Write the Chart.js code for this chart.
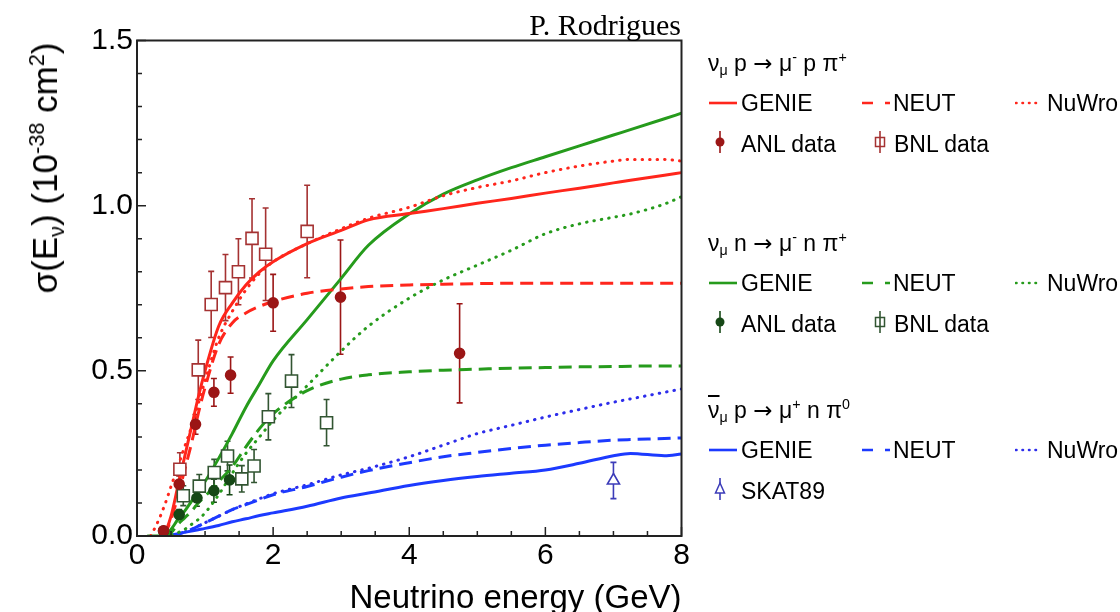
<!DOCTYPE html>
<html>
<head>
<meta charset="utf-8">
<script src="https://cdn.jsdelivr.net/npm/chart.js@4.4.1/dist/chart.umd.min.js"></script>
<style>
  html, body { margin: 0; padding: 0; background: #fff; }
  #wrap { position: relative; width: 1120px; height: 612px; font-family: 'Liberation Sans', Arial, sans-serif; color: #000; overflow: hidden; }
  #wrap canvas { position: absolute; left: 0; top: 0; }
  .lbl { position: absolute; white-space: nowrap; font-size: 23px; line-height: 28px; transform: translateY(-50%); }
  sub, sup { font-size: 0.62em; line-height: 0; }
  sub { vertical-align: -0.3em; }
  sup { vertical-align: 0.6em; }
  .arr { font-family: 'DejaVu Sans', sans-serif; }
  .mk { position: absolute; transform: translateY(-50%); display: block; }
  #ytitle { position: absolute; left: 45px; top: 168px; font-size: 35px; line-height: 38px; white-space: nowrap; transform: translate(-50%, -50%) rotate(-90deg); }
  #author { position: absolute; right: 439px; top: 10px; font-family: 'Liberation Serif', 'Times New Roman', serif; font-size: 30px; line-height: 30px; }
  .bar { text-decoration: overline; }
</style>
</head>
<body>
<div id="wrap">
  <canvas id="xsec" width="1120" height="612"></canvas>
  <div id="ytitle">σ(E<sub>ν</sub>) (10<sup>-38</sup> cm<sup>2</sup>)</div>
  <div id="author">P. Rodrigues</div>
</div>
<script>
// energy grid shared by the generator curves (GeV)
const energy = [0.15, 0.2, 0.3, 0.4, 0.5, 0.6, 0.7, 0.8, 0.9, 1.0, 1.2, 1.4, 1.6, 1.8, 2.0, 2.5, 3.0, 3.4, 4.0, 4.5, 5.0, 5.5, 6.0, 6.5, 7.0, 7.25, 7.75, 8.0]

// nu_mu p -> mu- p pi+
const ppGenie = [null, null, null, 0, 0.06, 0.15, 0.24, 0.33, 0.42, 0.50, 0.635, 0.705, 0.76, 0.80, 0.83, 0.885, 0.925, 0.957, 0.976, 0.991, 1.007, 1.022, 1.038, 1.053, 1.069, 1.077, 1.092, 1.10]
const ppNeut  = [null, null, null, 0, 0.05, 0.12, 0.20, 0.28, 0.37, 0.45, 0.58, 0.645, 0.675, 0.695, 0.71, 0.735, 0.748, 0.755, 0.76, 0.762, 0.764, 0.765, 0.765, 0.765, 0.765, 0.765, 0.765, 0.765]
const ppNuwro = [null, 0, 0.04, 0.09, 0.15, 0.21, 0.27, 0.33, 0.40, 0.47, 0.60, 0.68, 0.745, 0.795, 0.83, 0.885, 0.93, 0.962, 0.995, 1.03, 1.055, 1.075, 1.10, 1.12, 1.135, 1.14, 1.14, 1.135]

// nu_mu n -> mu- n pi+
const npGenie = [0, 0, 0, 0, 0.02, 0.05, 0.075, 0.105, 0.135, 0.165, 0.235, 0.31, 0.39, 0.46, 0.53, 0.655, 0.78, 0.88, 0.975, 1.035, 1.078, 1.115, 1.148, 1.181, 1.214, 1.23, 1.263, 1.28]
const npNeut  = [null, null, null, 0, 0.01, 0.035, 0.055, 0.075, 0.10, 0.12, 0.165, 0.21, 0.27, 0.325, 0.37, 0.44, 0.475, 0.488, 0.497, 0.502, 0.505, 0.508, 0.51, 0.512, 0.513, 0.514, 0.515, 0.515]
const npNuwro = [null, null, null, 0, 0.003, 0.01, 0.02, 0.035, 0.05, 0.07, 0.125, 0.19, 0.25, 0.30, 0.35, 0.455, 0.56, 0.635, 0.72, 0.775, 0.82, 0.865, 0.915, 0.945, 0.965, 0.975, 1.005, 1.027]

// anti-nu_mu p -> mu+ n pi0
const pi0Genie = [null, null, null, 0, 0.003, 0.007, 0.011, 0.015, 0.019, 0.023, 0.032, 0.043, 0.052, 0.062, 0.07, 0.09, 0.115, 0.13, 0.153, 0.168, 0.18, 0.19, 0.20, 0.22, 0.243, 0.25, 0.243, 0.248]
const pi0Neut  = [null, null, null, null, 0, 0.005, 0.012, 0.02, 0.03, 0.04, 0.06, 0.08, 0.095, 0.11, 0.125, 0.15, 0.178, 0.198, 0.222, 0.24, 0.253, 0.265, 0.275, 0.283, 0.29, 0.292, 0.295, 0.297]
const pi0Nuwro = [null, null, null, null, 0, 0.005, 0.012, 0.02, 0.03, 0.04, 0.06, 0.08, 0.097, 0.113, 0.128, 0.155, 0.185, 0.205, 0.24, 0.275, 0.31, 0.335, 0.36, 0.383, 0.405, 0.415, 0.435, 0.445]

// measurements
const anlPE   = [0.39, 0.62, 0.86, 1.13, 1.375, 2.0, 2.99, 4.74]
const anlPSig = [0.016, 0.157, 0.338, 0.435, 0.487, 0.706, 0.723, 0.553]
const anlPErr = [0.01, 0.025, 0.03, 0.042, 0.055, 0.086, 0.173, 0.15]

const bnlPE   = [0.63, 0.90, 1.09, 1.30, 1.49, 1.69, 1.89, 2.50]
const bnlPSig = [0.202, 0.503, 0.701, 0.752, 0.80, 0.901, 0.853, 0.922]
const bnlPErr = [0.05, 0.09, 0.10, 0.10, 0.10, 0.12, 0.14, 0.14]

const anlNE   = [0.39, 0.62, 0.88, 1.13, 1.36]
const anlNSig = [0.015, 0.065, 0.115, 0.137, 0.17]
const anlNErr = [0.01, 0.015, 0.025, 0.035, 0.045]

const bnlNE   = [0.68, 0.915, 1.135, 1.33, 1.54, 1.72, 1.93, 2.27, 2.785]
const bnlNSig = [0.122, 0.151, 0.192, 0.242, 0.173, 0.212, 0.361, 0.469, 0.343]
const bnlNErr = [0.03, 0.035, 0.04, 0.045, 0.04, 0.05, 0.07, 0.08, 0.07]

const skatE   = [7.0]
const skatSig = [0.168]
const skatErr = [0.055]

const xTicks = [0, 2, 4, 6, 8]
const yTicks = [0, 0.5, 1.0, 1.5]

const FONT = "'Liberation Sans', Arial, sans-serif"
const RED = 'rgb(255,38,28)', GREEN = 'rgb(38,155,28)', BLUE = 'rgb(28,58,255)', BLUEDOT = 'rgb(45,45,235)'
const DKRED = 'rgb(155,22,22)', BNLRED = 'rgb(165,50,50)', DKGREEN = 'rgb(22,72,22)', BNLGREEN = 'rgb(50,85,50)', SKATBLUE = 'rgb(60,60,185)'

function curve(label, vals, color, style) {
  return {
    label,
    data: energy.map((x, i) => ({ x, y: vals[i] })),
    showLine: true,
    borderColor: color,
    borderWidth: 3,
    borderDash: style === 'dash' ? [13, 7] : style === 'dot' ? [0.5, 7] : [],
    borderCapStyle: style === 'dot' ? 'round' : 'butt',
    pointRadius: 0,
    cubicInterpolationMode: 'monotone',
    fill: false,
  }
}

function points(label, xs, ys, errs, color, shape, fillColor, r) {
  return {
    label,
    data: xs.map((x, i) => ({ x, y: ys[i] })),
    errors: errs,
    showLine: false,
    pointStyle: shape,
    pointRadius: r,
    pointBorderWidth: 1.6,
    borderColor: color,
    pointBorderColor: color,
    pointBackgroundColor: fillColor,
  }
}

// error bars under the markers, frame + inward ticks on top
const decor = {
  id: 'decor',
  beforeDatasetsDraw(chart) {
    const { ctx, scales: { x, y } } = chart
    chart.data.datasets.forEach(ds => {
      if (!ds.errors) return
      ctx.save()
      ctx.strokeStyle = ds.borderColor
      ctx.lineWidth = 1.6
      ctx.beginPath()
      ds.data.forEach((p, i) => {
        const px = x.getPixelForValue(p.x)
        const lo = y.getPixelForValue(p.y - ds.errors[i])
        const hi = y.getPixelForValue(p.y + ds.errors[i])
        ctx.moveTo(px, lo); ctx.lineTo(px, hi)
        ctx.moveTo(px - 3, lo); ctx.lineTo(px + 3, lo)
        ctx.moveTo(px - 3, hi); ctx.lineTo(px + 3, hi)
      })
      ctx.stroke()
      ctx.restore()
    })
  },
  afterDraw(chart) {
    const { ctx, chartArea: a, scales: { x, y } } = chart
    ctx.save()
    ctx.strokeStyle = '#222'
    ctx.lineWidth = 2
    ctx.strokeRect(a.left, a.top, a.right - a.left, a.bottom - a.top)
    ctx.lineWidth = 1.5
    ctx.beginPath()
    for (let k = 0; k <= 16; k++) {
      const px = x.getPixelForValue(k / 2)
      ctx.moveTo(px, a.bottom)
      ctx.lineTo(px, a.bottom - (k % 4 === 0 ? 9 : 5))
    }
    for (let k = 0; k <= 15; k++) {
      const py = y.getPixelForValue(k / 10)
      ctx.moveTo(a.left, py)
      ctx.lineTo(a.left + (k % 5 === 0 ? 9 : 5), py)
    }
    ctx.stroke()
    ctx.restore()
  },
}

new Chart(document.getElementById('xsec'), {
  type: 'scatter',
  data: {
    datasets: [
      points('ANL p', anlPE, anlPSig, anlPErr, DKRED, 'circle', DKRED, 5),
      points('BNL p', bnlPE, bnlPSig, bnlPErr, BNLRED, 'rect', '#fff', 8.5),
      points('ANL n', anlNE, anlNSig, anlNErr, DKGREEN, 'circle', DKGREEN, 5),
      points('BNL n', bnlNE, bnlNSig, bnlNErr, BNLGREEN, 'rect', '#fff', 8.5),
      points('SKAT89', skatE, skatSig, skatErr, SKATBLUE, 'triangle', '#fff', 7),
      curve('GENIE p', ppGenie, RED, 'solid'),
      curve('NEUT p', ppNeut, RED, 'dash'),
      curve('NuWro p', ppNuwro, RED, 'dot'),
      curve('GENIE n', npGenie, GREEN, 'solid'),
      curve('NEUT n', npNeut, GREEN, 'dash'),
      curve('NuWro n', npNuwro, GREEN, 'dot'),
      curve('GENIE pi0', pi0Genie, BLUE, 'solid'),
      curve('NEUT pi0', pi0Neut, BLUE, 'dash'),
      curve('NuWro pi0', pi0Nuwro, BLUEDOT, 'dot'),
    ],
  },
  options: {
    responsive: false,
    animation: false,
    layout: { padding: { left: 0, top: 40.5, right: 438.5, bottom: 0 } },
    plugins: { legend: { display: false }, tooltip: { enabled: false } },
    scales: {
      x: {
        type: 'linear', min: 0, max: 8,
        afterFit: s => { s.height = 76 },
        afterBuildTicks: s => { s.ticks = xTicks.map(v => ({ value: v })) },
        grid: { display: false, drawTicks: false },
        border: { display: false },
        ticks: { color: '#000', font: { family: FONT, size: 30 }, padding: 2, callback: v => String(v) },
        title: { display: true, text: 'Neutrino energy (GeV)', align: 'end', color: '#000', font: { family: FONT, size: 33, lineHeight: 0.82 }, padding: 0 },
      },
      y: {
        type: 'linear', min: 0, max: 1.5,
        afterFit: s => { s.width = 137 },
        afterBuildTicks: s => { s.ticks = yTicks.map(v => ({ value: v })) },
        grid: { display: false, drawTicks: false },
        border: { display: false },
        ticks: { color: '#000', font: { family: FONT, size: 30 }, padding: 4, callback: v => v.toFixed(1) },
      },
    },
  },
  plugins: [decor],
})

// legend, drawn as html next to the plot
const wrap = document.getElementById('wrap')

function put(x, y, html, cls) {
  const d = document.createElement('div')
  d.className = cls
  d.style.left = x + 'px'
  d.style.top = y + 'px'
  d.innerHTML = html
  wrap.appendChild(d)
}

function lineSample(color, style, w) {
  const dash = style === 'dash' ? 'stroke-dasharray="11,12"' : style === 'dot' ? 'stroke-dasharray="0.5,6" stroke-linecap="round"' : ''
  return `<svg width="${w}" height="10"><line x1="1" y1="5" x2="${w - 1}" y2="5" stroke="${color}" stroke-width="2.6" ${dash}/></svg>`
}

function markerSample(color, shape) {
  let m = ''
  if (shape === 'circle') m = `<circle cx="8" cy="12" r="4.5" fill="${color}"/>`
  if (shape === 'rect') m = `<rect x="3.5" y="7.5" width="9" height="9" fill="none" stroke="${color}" stroke-width="1.5"/>`
  if (shape === 'triangle') m = `<polygon points="8,6 12.5,16 3.5,16" fill="#fff" stroke="${color}" stroke-width="1.5"/>`
  return `<svg width="16" height="24"><line x1="8" y1="1" x2="8" y2="23" stroke="${color}" stroke-width="1.6"/>${m}</svg>`
}

function group(top, title, color, dotColor, markers) {
  put(708, top, title, 'lbl')
  const r1 = top + 40, r2 = top + 81
  put(708, r1, lineSample(color, 'solid', 30), 'mk')
  put(741, r1, 'GENIE', 'lbl')
  put(861, r1, lineSample(color, 'dash', 30), 'mk')
  put(893, r1, 'NEUT', 'lbl')
  put(1015, r1, lineSample(dotColor, 'dot', 28), 'mk')
  put(1047, r1, 'NuWro', 'lbl')
  markers.forEach(([x, mcolor, shape, text]) => {
    put(x - 8, r2, markerSample(mcolor, shape), 'mk')
    put(x + (text === 'BNL data' ? 14 : 21), r2, text, 'lbl')
  })
}

group(63, 'ν<sub>μ</sub> p <span class="arr">→</span> μ<sup>-</sup> p π<sup>+</sup>', RED, RED,
  [[720, DKRED, 'circle', 'ANL data'], [880, BNLRED, 'rect', 'BNL data']])
group(243, 'ν<sub>μ</sub> n <span class="arr">→</span> μ<sup>-</sup> n π<sup>+</sup>', GREEN, GREEN,
  [[720, DKGREEN, 'circle', 'ANL data'], [880, BNLGREEN, 'rect', 'BNL data']])
group(410, '<span class="bar">ν</span><sub>μ</sub> p <span class="arr">→</span> μ<sup>+</sup> n π<sup>0</sup>', BLUE, BLUEDOT,
  [[720, SKATBLUE, 'triangle', 'SKAT89']])
</script>
</body>
</html>
